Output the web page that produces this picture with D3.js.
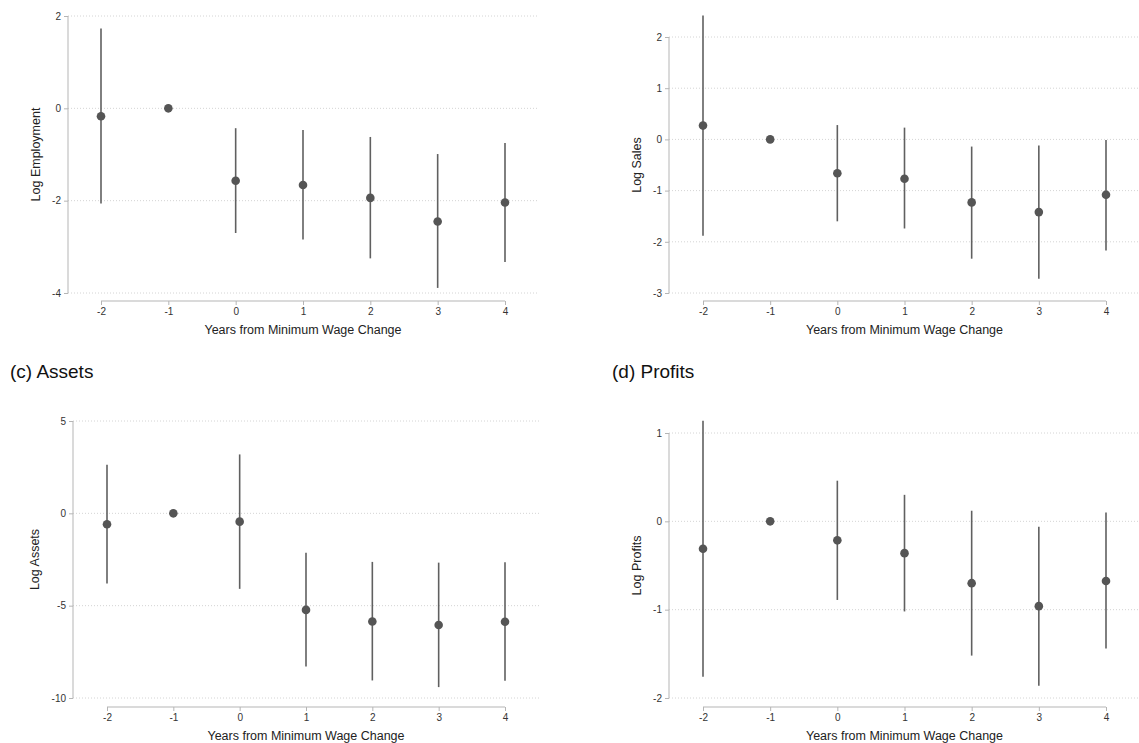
<!DOCTYPE html>
<html>
<head>
<meta charset="utf-8">
<script src="https://cdn.jsdelivr.net/npm/d3@7"></script>
<style>
  body { margin: 0; background: #fff; }
  svg { display: block; font-family: "Liberation Sans", Arial, sans-serif; }
</style>
</head>
<body>
<div id="chart"></div>
<script>
const years = [-2, -1, 0, 1, 2, 3, 4];

const employmentEst = [-0.17, 0, -1.57, -1.66, -1.94, -2.45, -2.04];
const employmentLo = [-2.06, null, -2.70, -2.84, -3.25, -3.89, -3.33];
const employmentHi = [1.73, null, -0.43, -0.47, -0.62, -0.99, -0.75];
const employmentTicks = [2, 0, -2, -4];

const salesEst = [0.27, 0, -0.66, -0.77, -1.23, -1.42, -1.08];
const salesLo = [-1.88, null, -1.60, -1.74, -2.33, -2.72, -2.17];
const salesHi = [2.42, null, 0.28, 0.23, -0.14, -0.12, -0.01];
const salesTicks = [2, 1, 0, -1, -2, -3];

const assetsEst = [-0.59, 0, -0.45, -5.23, -5.86, -6.05, -5.87];
const assetsLo = [-3.80, null, -4.09, -8.29, -9.05, -9.41, -9.06];
const assetsHi = [2.63, null, 3.19, -2.14, -2.63, -2.67, -2.65];
const assetsTicks = [5, 0, -5, -10];

const profitsEst = [-0.31, 0, -0.215, -0.36, -0.70, -0.96, -0.675];
const profitsLo = [-1.76, null, -0.89, -1.02, -1.52, -1.86, -1.44];
const profitsHi = [1.14, null, 0.46, 0.30, 0.12, -0.06, 0.10];
const profitsTicks = [1, 0, -1, -2];

const xTitle = "Years from Minimum Wage Change";

const width = 1139, height = 743;
const svg = d3.select("#chart").append("svg")
  .attr("width", width)
  .attr("height", height);

const panels = [
  { label: null, ytitle: "Log Employment", est: employmentEst, lo: employmentLo, hi: employmentHi, ticks: employmentTicks,
    axisX: 68, gridRight: 539, yTop: 16, yBottom: 293, xAxisY: 301, xLeft: 101, xRight: 505, ytitleX: 36 },
  { label: null, ytitle: "Log Sales", est: salesEst, lo: salesLo, hi: salesHi, ticks: salesTicks,
    axisX: 669, gridRight: 1139, yTop: 37, yBottom: 293, xAxisY: 301, xLeft: 703, xRight: 1106, ytitleX: 637 },
  { label: "(c) Assets", labelX: 10, labelY: 378, ytitle: "Log Assets", est: assetsEst, lo: assetsLo, hi: assetsHi, ticks: assetsTicks,
    axisX: 73, gridRight: 539, yTop: 421, yBottom: 698, xAxisY: 707, xLeft: 107, xRight: 505, ytitleX: 35 },
  { label: "(d) Profits", labelX: 612, labelY: 378, ytitle: "Log Profits", est: profitsEst, lo: profitsLo, hi: profitsHi, ticks: profitsTicks,
    axisX: 669, gridRight: 1139, yTop: 433, yBottom: 698, xAxisY: 707, xLeft: 703, xRight: 1106, ytitleX: 637 }
];

// stata prints a plain hyphen, not the unicode minus d3 uses
const fmt = (d) => String(d);

panels.forEach((p) => {
  const g = svg.append("g");

  const x = d3.scaleLinear().domain([-2, 4]).range([p.xLeft, p.xRight]);
  const y = d3.scaleLinear().domain([d3.min(p.ticks), d3.max(p.ticks)]).range([p.yBottom, p.yTop]);

  if (p.label) {
    g.append("text")
      .attr("x", p.labelX)
      .attr("y", p.labelY)
      .style("font-size", "19px")
      .attr("fill", "#111")
      .text(p.label);
  }

  // dotted grid
  g.append("g")
    .selectAll("line")
    .data(p.ticks)
    .join("line")
    .attr("x1", p.axisX)
    .attr("x2", p.gridRight)
    .attr("y1", (d) => y(d))
    .attr("y2", (d) => y(d))
    .attr("stroke", "#d4d4d4")
    .attr("stroke-width", 1)
    .attr("stroke-dasharray", "1,2");

  const yAxis = g.append("g")
    .attr("transform", `translate(${p.axisX},0)`)
    .call(d3.axisLeft(y).tickValues(p.ticks).tickSize(4).tickPadding(3).tickFormat(fmt));
  yAxis.select(".domain").attr("stroke", "#b5b5b5").attr("d", `M0,${p.yTop}V${p.yBottom}`);
  yAxis.selectAll(".tick line").attr("stroke", "#b5b5b5");
  yAxis.selectAll(".tick text").attr("fill", "#333").style("font-size", "10px").style("font-family", "'Liberation Sans', Arial, sans-serif");

  const xAxis = g.append("g")
    .attr("transform", `translate(0,${p.xAxisY})`)
    .call(d3.axisBottom(x).tickValues(years).tickSize(4).tickPadding(3).tickFormat(fmt));
  xAxis.select(".domain").attr("stroke", "#b5b5b5").attr("d", `M${p.xLeft},0H${p.xRight}`);
  xAxis.selectAll(".tick line").attr("stroke", "#b5b5b5");
  xAxis.selectAll(".tick text").attr("fill", "#333").style("font-size", "10px").style("font-family", "'Liberation Sans', Arial, sans-serif");

  g.append("text")
    .attr("x", (p.xLeft + p.xRight) / 2)
    .attr("y", p.xAxisY + 33)
    .attr("text-anchor", "middle")
    .style("font-size", "12.5px")
    .attr("fill", "#222")
    .text(xTitle);

  g.append("text")
    .attr("transform", `translate(${p.ytitleX + 4},${(p.yTop + p.yBottom) / 2}) rotate(-90)`)
    .attr("text-anchor", "middle")
    .style("font-size", "12.5px")
    .attr("fill", "#222")
    .text(p.ytitle);

  const rows = years.map((yr, i) => ({ yr, est: p.est[i], lo: p.lo[i], hi: p.hi[i] }));

  g.append("g")
    .selectAll("line")
    .data(rows.filter((d) => d.lo !== null))
    .join("line")
    .attr("x1", (d) => x(d.yr))
    .attr("x2", (d) => x(d.yr))
    .attr("y1", (d) => y(d.lo))
    .attr("y2", (d) => y(d.hi))
    .attr("stroke", "#606060")
    .attr("stroke-width", 1.6);

  g.append("g")
    .selectAll("circle")
    .data(rows)
    .join("circle")
    .attr("cx", (d) => x(d.yr))
    .attr("cy", (d) => y(d.est))
    .attr("r", 4.3)
    .attr("fill", "#555");
});
</script>
</body>
</html>
